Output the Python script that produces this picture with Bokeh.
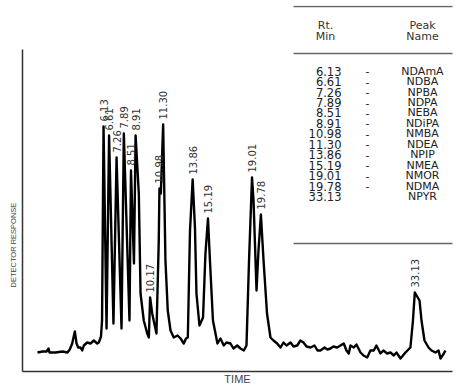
from math import pi
from bokeh.plotting import figure
from bokeh.models import Range1d, FixedTicker, ColumnDataSource, Title
from bokeh.core.properties import value
from bokeh.embed import file_html
from bokeh.resources import INLINE

# ---------------- data ----------------
trace_time = [0.40, 0.84, 1.18, 1.36, 1.44, 1.96, 2.57, 3.00, 3.20, 3.41, 3.64, 3.79, 3.93, 4.13,
              4.28, 4.42, 4.71, 5.00, 5.29, 5.58, 5.72, 5.91, 6.00, 6.13, 6.39, 6.61, 6.99, 7.26,
              7.69, 7.89, 8.38, 8.51, 8.77, 8.91, 9.19, 9.34, 9.62, 9.92, 10.06, 10.17, 10.35,
              10.72, 10.92, 10.98, 11.10, 11.30, 11.50, 11.70, 11.94, 12.22, 12.55, 12.81, 13.09,
              13.28, 13.44, 13.63, 13.86, 14.06, 14.19, 14.45, 14.76, 14.97, 15.19, 15.36, 15.62,
              16.01, 16.27, 16.56, 16.80, 17.14, 17.40, 17.72, 18.01, 18.30, 18.53, 18.75, 19.01,
              19.14, 19.40, 19.57, 19.78, 20.01, 20.31, 20.61, 20.87, 21.19, 21.48, 21.74, 22.00,
              22.35, 22.61, 22.93, 23.21, 23.47, 23.74, 24.08, 24.43, 24.69, 24.95, 25.30, 25.55,
              25.81, 26.07, 26.40, 26.68, 26.97, 27.20, 27.40, 27.55, 27.84, 28.07, 28.42, 28.68,
              29.00, 29.28, 29.57, 29.80, 30.15, 30.41, 30.73, 31.02, 31.31, 31.54, 31.89, 32.32,
              32.75, 32.97, 33.13, 33.54, 33.71, 33.97, 34.32, 34.58, 34.93, 35.19, 35.36, 35.65,
              35.79]
trace_resp = [19, 20, 20, 23, 19, 19, 20, 19, 22, 28, 40, 28, 24, 24,
              21, 26, 29, 28, 31, 28, 29, 35, 51, 245, 43, 236, 48, 214,
              43, 238, 51, 201, 108, 236, 178, 78, 51, 38, 34, 74, 58,
              38, 131, 183, 178, 247, 111, 61, 41, 34, 36, 33, 28,
              33, 34, 141, 192, 144, 78, 46, 54, 118, 153, 111, 51,
              28, 33, 26, 29, 28, 23, 26, 23, 21, 26, 111, 194,
              171, 81, 121, 157, 111, 58, 34, 31, 28, 24, 29, 26,
              29, 25, 26, 31, 29, 25, 24, 26, 21, 21, 24, 22,
              23, 25, 24, 26, 28, 21, 18, 26, 24, 27, 19, 16,
              14, 21, 21, 26, 18, 21, 18, 19, 16, 19, 13, 19,
              24, 51, 79, 71, 51, 31, 24, 21, 19, 21, 13, 18,
              21]

peak_labels = [6.13, 6.61, 7.26, 7.89, 8.51, 8.91, 10.17, 10.98, 11.30,
               13.86, 15.19, 19.01, 19.78, 33.13]

table_rt = ["6.13", "6.61", "7.26", "7.89", "8.51", "8.91", "10.98", "11.30",
            "13.86", "15.19", "19.01", "19.78", "33.13"]
table_names = ["NDAmA", "NDBA", "NPBA", "NDPA", "NEBA", "NDiPA", "NMBA", "NDEA",
               "NPIP", "NMEA", "NMOR", "NDMA", "NPYR"]

# ---------------- figure ----------------
X0, X1 = -0.9, 36.4
FRAME_L, FRAME_W, FRAME_B = 22, 430, 371   # page pixels


def tx(px):
    return X0 + (px - FRAME_L) / FRAME_W * (X1 - X0)


def ry(py):
    return FRAME_B - py


p = figure(width=450, height=384, output_backend="svg", toolbar_location=None,
           x_range=Range1d(X0, X1), y_range=Range1d(0, 366),
           min_border_left=18, min_border_right=2, min_border_top=0, min_border_bottom=18)
p.styles = {"margin-top": "5px", "margin-left": "4px"}
p.grid.visible = False
p.outline_line_color = None
p.background_fill_color = "white"
p.border_fill_color = "white"

# bottom axis
xa = p.xaxis[0]
xa.ticker = FixedTicker(ticks=[])
xa.minor_tick_line_color = None
xa.major_tick_out = 0
xa.major_tick_in = 0
xa.major_label_standoff = 0
xa.axis_line_color = "#333333"
xa.axis_line_width = 1.5
xa.axis_label = "TIME"
xa.axis_label_text_font = "Liberation Sans"
xa.axis_label_text_font_size = "11px"
xa.axis_label_text_font_style = "normal"
xa.axis_label_text_color = "#444444"
xa.axis_label_standoff = 1

# left axis (line only)
ya = p.yaxis[0]
ya.ticker = FixedTicker(ticks=[])
ya.minor_tick_line_color = None
ya.major_tick_out = 0
ya.major_tick_in = 0
ya.major_label_standoff = 0
ya.axis_line_color = "#333333"
ya.axis_line_width = 1.5
ya.bounds = (0, 322)

# left axis title
p.add_layout(Title(text="DETECTOR RESPONSE", align="left", offset=84, standoff=6,
                   vertical_align="top",
                   text_font="Liberation Sans", text_font_size="7.5px",
                   text_font_style="normal", text_color="#444444"), "left")

# chromatogram trace
p.line(trace_time, trace_resp, line_color="black", line_width=2.4, line_join="round")

# peak labels
lookup = dict(zip(trace_time, trace_resp))
lab_src = ColumnDataSource(dict(
    x=peak_labels,
    y=[lookup[t] + 5 for t in peak_labels],
    text=["%.2f" % t for t in peak_labels],
))
p.text(x="x", y="y", text="text", source=lab_src, angle=pi / 2,
       text_align="left", text_baseline="middle",
       text_font=value("DejaVu Sans"), text_font_size="10px", text_color="#333333")

# table
p.segment(x0=[tx(293)] * 3, x1=[tx(453)] * 3, y0=[ry(6), ry(53), ry(243)],
          y1=[ry(6), ry(53), ry(243)], line_color="#666666", line_width=1.5)

hdr_src = ColumnDataSource(dict(
    x=[tx(325), tx(325), tx(422), tx(422)],
    y=[ry(25), ry(36), ry(25), ry(36)],
    text=["Rt.", "Min", "Peak", "Name"],
))
p.text(x="x", y="y", text="text", source=hdr_src, text_align="center", text_baseline="middle",
       text_font=value("DejaVu Sans"), text_font_size="11px", text_color="#333333")

rows_y = [ry(70.7 + i * 10.44) for i in range(len(table_rt))]
p.text(x=[tx(341)] * len(table_rt), y=rows_y, text=table_rt, text_align="right",
       text_baseline="middle", text_font=value("DejaVu Sans"), text_font_size="11.5px",
       text_color="#222222")
p.text(x=[tx(367)] * (len(table_rt) - 1), y=rows_y[:-1], text=["-"] * (len(table_rt) - 1),
       text_align="center", text_baseline="middle", text_font=value("DejaVu Sans"),
       text_font_size="11px", text_color="#222222")
p.text(x=[tx(422)] * len(table_names), y=rows_y, text=table_names, text_align="center",
       text_baseline="middle", text_font=value("DejaVu Sans"), text_font_size="11px",
       text_color="#222222")

open("out.html", "w").write(file_html(p, INLINE))
